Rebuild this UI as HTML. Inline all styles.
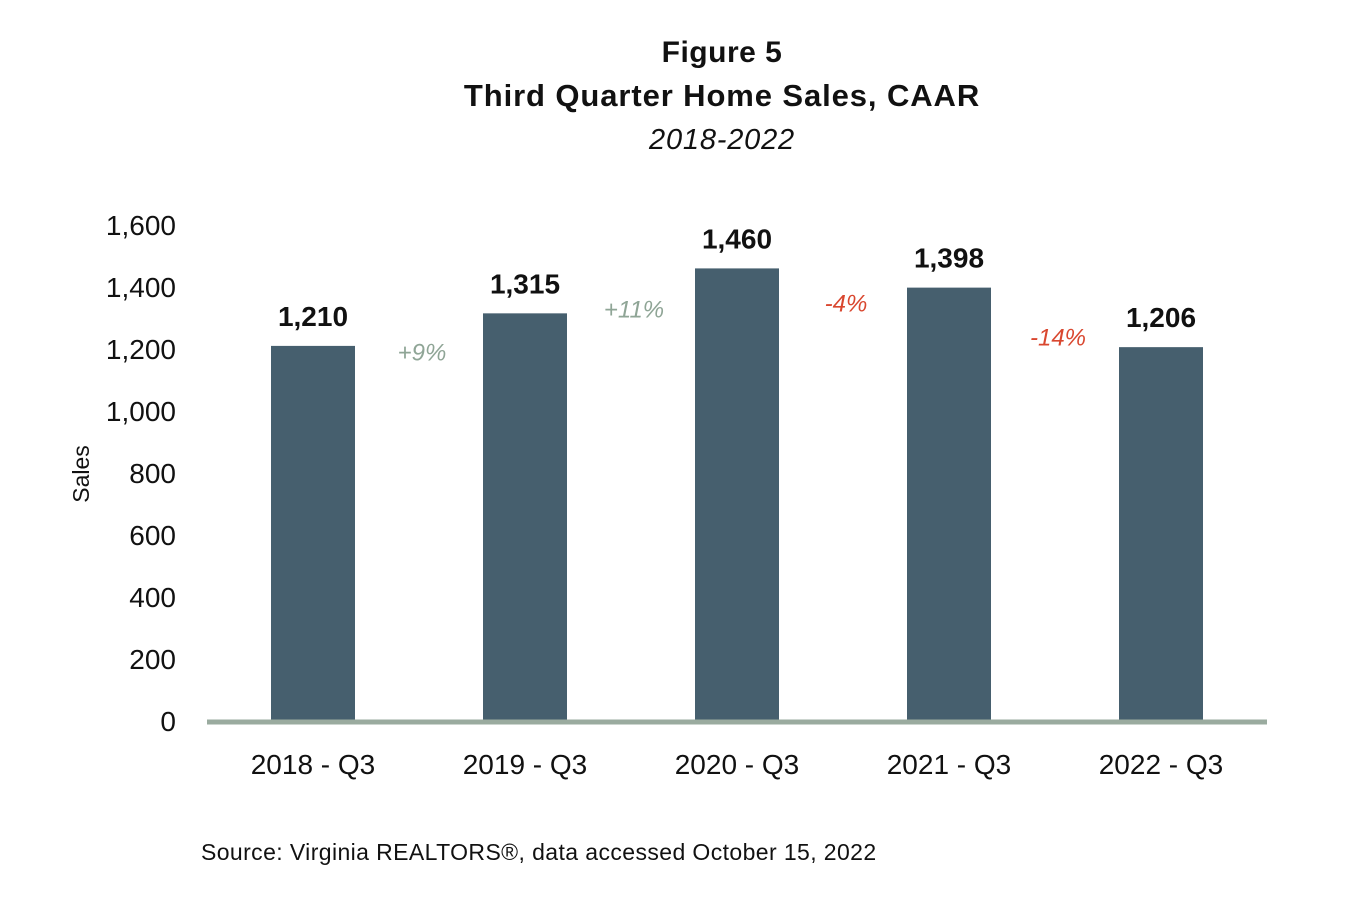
<!DOCTYPE html>
<html><head><meta charset="utf-8"><style>
body{margin:0;background:#fff;width:1355px;height:901px;overflow:hidden;font-family:"Liberation Sans",sans-serif}
</style></head><body>
<svg width="1355" height="901" id="c" font-family="Liberation Sans, sans-serif">
<text x="722" y="62" text-anchor="middle" font-size="30" font-weight="bold" fill="#111" letter-spacing="0.5">Figure 5</text>
<text x="722" y="106" text-anchor="middle" font-size="31" font-weight="bold" fill="#111" letter-spacing="0.9">Third Quarter Home Sales, CAAR</text>
<text x="722" y="149" text-anchor="middle" font-size="29" font-style="italic" fill="#111" letter-spacing="0.8">2018-2022</text>
<text transform="translate(89,474) rotate(-90)" text-anchor="middle" font-size="23" fill="#111">Sales</text>
<text x="201" y="860" font-size="23" fill="#111" letter-spacing="0.4">Source: Virginia REALTORS®, data accessed October 15, 2022</text>
</svg>
<script>
const categories=["2018 - Q3","2019 - Q3","2020 - Q3","2021 - Q3","2022 - Q3"];
const sales=[1210,1315,1460,1398,1206];
const changeLabels=["+9%","+11%","-4%","-14%"];
const yTicks=[0,200,400,600,800,1000,1200,1400,1600];
const svg=document.getElementById('c');const NS="http://www.w3.org/2000/svg";
const y=v=>721-v*(496/1600);
const x=i=>313+i*212;
const labelDy=[47,49,43,43];
function mk(t,a,txt){const e=document.createElementNS(NS,t);for(const k in a)e.setAttribute(k,a[k]);if(txt!=null)e.textContent=txt;svg.appendChild(e);return e;}
yTicks.forEach(t=>{const e=mk('text',{x:176,y:y(t)+10,'text-anchor':'end','font-size':28,fill:'#111'},t.toLocaleString('en-US'));

});
sales.forEach((v,i)=>{const r=mk('rect',{x:x(i)-42,y:y(v),width:84,height:y(0)-y(v),fill:'#465f6e'});


const l=mk('text',{x:x(i),y:y(v)-20,'text-anchor':'middle','font-size':28,'font-weight':'bold',fill:'#111'},v.toLocaleString('en-US'));


const c=mk('text',{x:x(i),y:774,'text-anchor':'middle','font-size':28,fill:'#111'},categories[i]);

});
changeLabels.forEach((s,i)=>{const mid=(x(i)+x(i+1))/2;const top=Math.max(sales[i],sales[i+1]);
const yy=(i==3)?y(sales[3])+58:y(top)+labelDy[i];
const e=mk('text',{x:mid+3,y:yy,'text-anchor':'middle','font-size':24,'font-style':'italic',fill:s[0]=='+'?'#8fa596':'#d9472f'},s);

});
const ax=mk('line',{x1:207,x2:1267,y1:y(0)+1,y2:y(0)+1,stroke:'#9aab9f','stroke-width':5});


</script>
</body></html>
